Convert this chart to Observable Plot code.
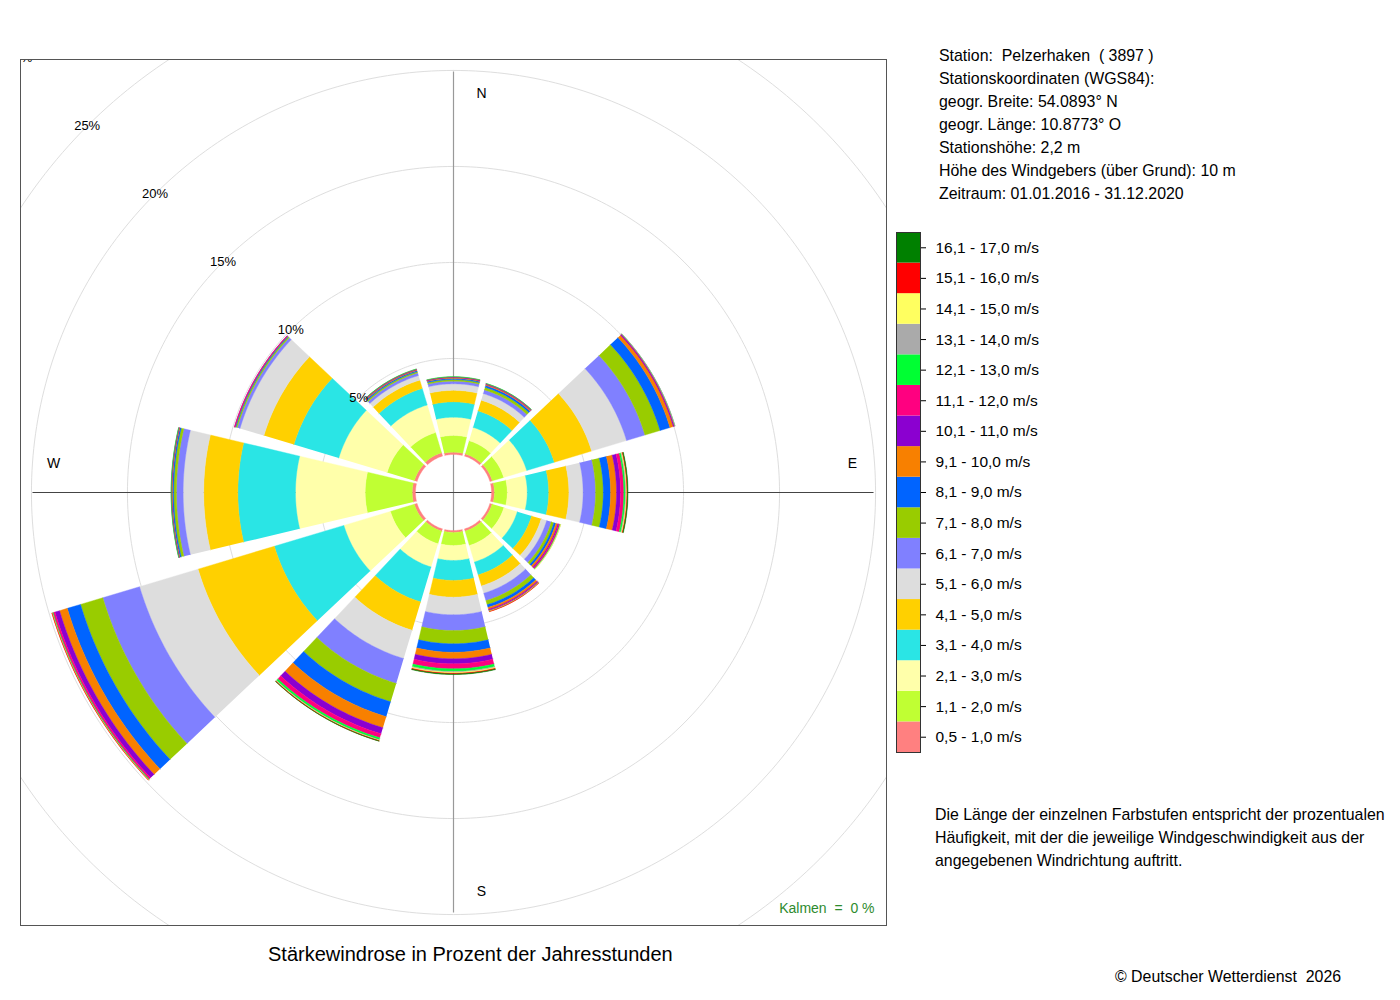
<!DOCTYPE html>
<html>
<head>
<meta charset="utf-8">
<script src="https://cdn.jsdelivr.net/npm/d3@7"></script>
<script src="https://cdn.jsdelivr.net/npm/@observablehq/plot@0.6"></script>
<style>
  body { margin: 0; background: #fff; font-family: "Liberation Sans", Arial, sans-serif; }
  #page { position: relative; width: 1400px; height: 1000px; overflow: hidden; }
  .abs { position: absolute; white-space: pre; color: #000; }
</style>
</head>
<body>
<div id="page"></div>
<script>
// ---------- data ----------
const classes = [
  "0,5 - 1,0 m/s", "1,1 - 2,0 m/s", "2,1 - 3,0 m/s", "3,1 - 4,0 m/s", "4,1 - 5,0 m/s",
  "5,1 - 6,0 m/s", "6,1 - 7,0 m/s", "7,1 - 8,0 m/s", "8,1 - 9,0 m/s", "9,1 - 10,0 m/s",
  "10,1 - 11,0 m/s", "11,1 - 12,0 m/s", "12,1 - 13,0 m/s", "13,1 - 14,0 m/s",
  "14,1 - 15,0 m/s", "15,1 - 16,0 m/s", "16,1 - 17,0 m/s"
];
const colors = [
  "#ff8080", "#c0ff33", "#ffffaa", "#2ae5e5", "#ffd000",
  "#dddddd", "#8080ff", "#99cc00", "#0064ff", "#f88000",
  "#8b00d0", "#ff0080", "#00ff33", "#aaaaaa",
  "#ffff60", "#ff0000", "#008000"
];
const directions = [0, 30, 60, 90, 120, 150, 180, 210, 240, 270, 300, 330];

// percent of hours per speed class (same order as classes)
const dirN   = [0.12, 0.87, 0.95, 0.80, 0.60, 0.34, 0.14, 0.08, 0.06, 0.04, 0.02, 0.02, 0.01, 0, 0, 0, 0];
const dirNNE = [0.12, 0.72, 0.72, 0.90, 0.58, 0.36, 0.20, 0.14, 0.10, 0.05, 0.03, 0.02, 0.01, 0, 0, 0, 0];
const dirENE = [0.13, 0.62, 1.25, 1.50, 2.03, 1.90, 1.00, 0.82, 0.54, 0.18, 0.05, 0.03, 0.01, 0.01, 0, 0, 0];
const dirE   = [0.15, 0.67, 1.04, 1.12, 1.05, 0.74, 0.65, 0.40, 0.38, 0.31, 0.21, 0.17, 0.08, 0.04, 0.04, 0.03, 0.03];
const dirESE = [0.12, 0.64, 0.73, 0.78, 0.52, 0.30, 0.25, 0.14, 0.11, 0.10, 0.05, 0.06, 0.03, 0.01, 0.01, 0, 0];
const dirSSE = [0.12, 0.78, 0.90, 0.70, 0.60, 0.40, 0.40, 0.22, 0.15, 0.10, 0.04, 0.04, 0.02, 0.01, 0.01, 0.01, 0];
const dirS   = [0.10, 0.68, 0.78, 1.04, 0.87, 0.92, 0.82, 0.69, 0.44, 0.34, 0.26, 0.26, 0.13, 0.05, 0.05, 0.04, 0.03];
const dirSSW = [0.12, 0.69, 1.26, 1.90, 1.54, 1.54, 1.35, 1.00, 0.81, 0.60, 0.33, 0.22, 0.10, 0.03, 0.02, 0.02, 0.01];
const dirWSW = [0.15, 1.30, 2.53, 3.78, 4.15, 3.18, 2.00, 1.21, 0.72, 0.42, 0.25, 0.10, 0.04, 0.01, 0.01, 0.01, 0];
const dirW   = [0.17, 2.45, 3.63, 3.00, 1.78, 1.07, 0.35, 0.14, 0.07, 0.03, 0.02, 0.01, 0.01, 0, 0, 0, 0];
const dirWNW = [0.15, 1.48, 2.63, 2.44, 1.63, 1.30, 0.15, 0.07, 0.04, 0.02, 0.01, 0.01, 0, 0, 0, 0, 0];
const dirNNW = [0.18, 1.10, 1.50, 0.90, 0.45, 0.25, 0.14, 0.07, 0.06, 0.04, 0.02, 0.02, 0.01, 0, 0, 0, 0];
const sectorValues = [dirN, dirNNE, dirENE, dirE, dirESE, dirSSE, dirS, dirSSW, dirWSW, dirW, dirWNW, dirNNW];

const ringValues = [5, 10, 15, 20, 25, 30];
const compassLabels = ["N", "E", "S", "W"];
const calmText = "Kalmen\u00a0\u00a0=\u00a0\u00a00\u00a0%";
const stationLines = [
  "Station:  Pelzerhaken  ( 3897 )",
  "Stationskoordinaten (WGS84):",
  "geogr. Breite: 54.0893° N",
  "geogr. Länge: 10.8773° O",
  "Stationshöhe: 2,2 m",
  "Höhe des Windgebers (über Grund): 10 m",
  "Zeitraum: 01.01.2016 - 31.12.2020"
];
const noteLines = [
  "Die Länge der einzelnen Farbstufen entspricht der prozentualen",
  "Häufigkeit, mit der die jeweilige Windgeschwindigkeit aus der",
  "angegebenen Windrichtung auftritt."
];
const titleText = "Stärkewindrose in Prozent der Jahresstunden";
const copyrightText = "© Deutscher Wetterdienst  2026";

// ---------- geometry (built from the data) ----------
const FONT = '"Liberation Sans", Arial, Helvetica, sans-serif';
const hole = 1.98;      // empty centre, in percent units
const half = 13.3;      // half angular width of a sector (deg)
const L = 22.55;        // half extent of the square frame
const axisLen = 21.9;
const rad = d => d * Math.PI / 180;

const polys = [];
directions.forEach((dir, i) => {
  let cum = 0;
  sectorValues[i].forEach((v, k) => {
    if (v <= 0) return;
    const r0 = hole + cum, r1 = hole + cum + v;
    cum += v;
    const id = i * 100 + k, n = 28;
    for (let j = 0; j <= n; j++) {
      const t = rad(dir - half + 2 * half * j / n);
      polys.push({id, cls: classes[k], x: r1 * Math.sin(t), y: r1 * Math.cos(t)});
    }
    for (let j = n; j >= 0; j--) {
      const t = rad(dir - half + 2 * half * j / n);
      polys.push({id, cls: classes[k], x: r0 * Math.sin(t), y: r0 * Math.cos(t)});
    }
  });
});

const ringPts = [];
ringValues.forEach(p => {
  for (let a = 0; a <= 360; a += 1) {
    ringPts.push({ring: p, x: (hole + p) * Math.sin(rad(a)), y: (hole + p) * Math.cos(rad(a))});
  }
});

const compassPos = {N: [1.46, 20.78], E: [20.78, 1.51], S: [1.46, -20.78], W: [-20.83, 1.51]};

const chart = Plot.plot({
  width: 900, height: 930,
  marginLeft: 20, marginRight: 14, marginTop: 59, marginBottom: 5,
  x: {domain: [-L, L], axis: null},
  y: {domain: [-L, L], axis: null},
  color: {domain: classes, range: colors},
  style: {fontFamily: FONT, fontSize: "13px", background: "white", color: "#000"},
  marks: [
    Plot.line(ringPts, {x: "x", y: "y", z: "ring", stroke: "#dedede", strokeWidth: 1, clip: true}),
    Plot.ruleX([0], {y1: () => -axisLen, y2: () => axisLen, stroke: "#999", strokeWidth: 1.2}),
    Plot.ruleY([0], {x1: () => -axisLen, x2: () => axisLen, stroke: "#444", strokeWidth: 1}),
    Plot.line(polys, {x: "x", y: "y", z: "id", fill: "cls", stroke: "cls", strokeWidth: 0.4, curve: "linear"}),
    Plot.text(ringValues, {
      x: p => -(hole + p) * Math.SQRT1_2, y: p => (hole + p) * Math.SQRT1_2,
      text: p => p + "%", fontSize: 13, fill: "#000", clip: true
    }),
    Plot.text(compassLabels, {
      x: d => compassPos[d][0], y: d => compassPos[d][1], text: d => d, fontSize: 14, fill: "#000"
    }),
    Plot.text([calmText], {
      frameAnchor: "bottom-right", text: d => d, dx: -12, dy: -13,
      fontSize: 14, fill: "#2e8b2e", textAnchor: "end"
    }),
    Plot.frame({stroke: "#555", strokeWidth: 1})
  ]
});
chart.style.position = "absolute";
chart.style.left = "0px";
chart.style.top = "0px";

const legend = Plot.plot({
  width: 220, height: 540,
  marginLeft: 16, marginRight: 180, marginTop: 10, marginBottom: 10,
  x: {axis: null},
  y: {domain: classes.slice().reverse(), padding: 0, round: false, axis: "right", tickSize: 5, tickPadding: 10, label: null},
  color: {domain: classes, range: colors},
  style: {fontFamily: FONT, fontSize: "15.5px", background: "transparent", color: "#000"},
  marks: [
    Plot.cell(classes, {y: d => d, fill: d => d, inset: 0}),
    Plot.frame({stroke: "#333", strokeWidth: 1})
  ]
});
legend.style.position = "absolute";
legend.style.left = "880px";
legend.style.top = "222px";

const page = document.getElementById("page");
page.appendChild(chart);
page.appendChild(legend);

function addText(txt, left, top, size, extra) {
  const d = document.createElement("div");
  d.className = "abs";
  d.textContent = txt;
  d.style.left = left + "px";
  d.style.top = top + "px";
  d.style.fontSize = size + "px";
  d.style.lineHeight = "23px";
  if (extra) Object.assign(d.style, extra);
  page.appendChild(d);
  return d;
}
addText(stationLines.join("\n"), 939, 43.5, 15.9);
addText(noteLines.join("\n"), 935, 802.5, 15.9);
addText(titleText, 268, 942.5, 20);
addText(copyrightText, 1115, 964.5, 15.9);
</script>
</body>
</html>
